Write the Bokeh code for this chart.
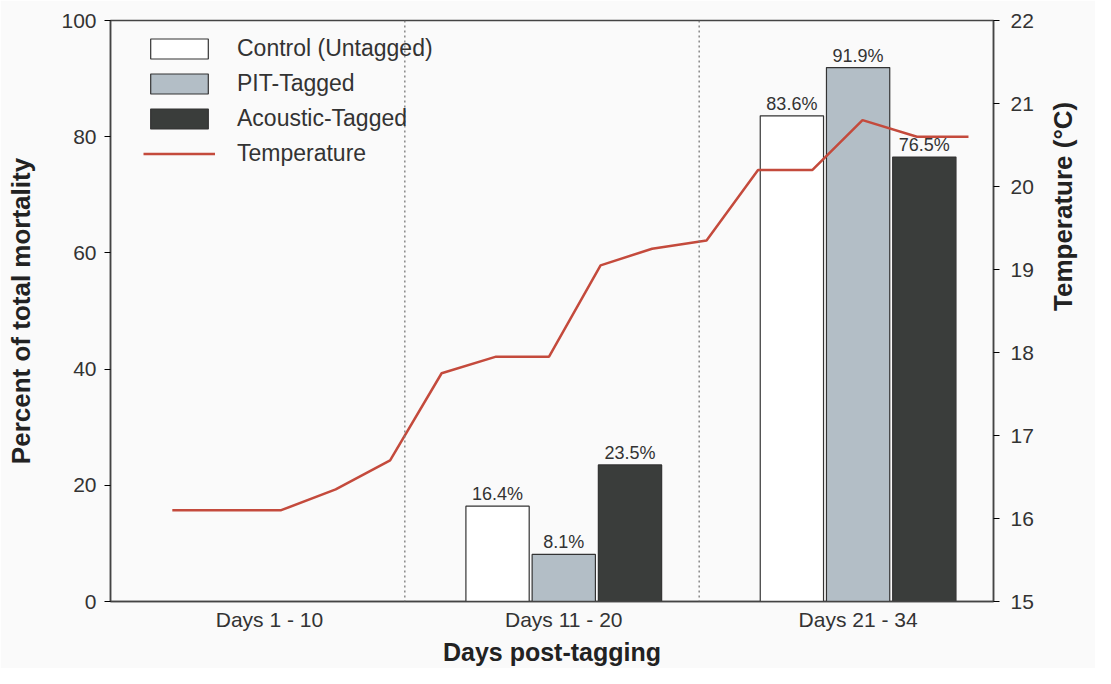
import math
from bokeh.plotting import figure
from bokeh.models import Range1d, LinearAxis, FixedTicker, Span, Legend, LegendItem, ColumnDataSource
from bokeh.core.properties import value
from bokeh.embed import file_html
from bokeh.resources import INLINE

# ---- data ----
groups = ["Days 1 - 10", "Days 11 - 20", "Days 21 - 34"]
control = [0.0, 16.4, 83.6]
pit = [0.0, 8.1, 91.9]
acoustic = [0.0, 23.5, 76.5]
temp_x = [0.21, 0.58, 0.765, 0.95, 1.125, 1.31, 1.49, 1.665, 1.84, 2.025, 2.2, 2.385, 2.555, 2.74, 2.915]
temp_c = [16.1, 16.1, 16.35, 16.7, 17.75, 17.95, 17.95, 19.05, 19.25, 19.35, 20.2, 20.2, 20.8, 20.6, 20.6]

FONT = "Liberation Sans"
BG = "#fafafa"
group_centers = [0.54, 1.54, 2.54]
offsets = [-0.225, 0.0, 0.225]
bw = 0.215

p = figure(width=1095, height=668, output_backend="svg", toolbar_location=None,
           x_range=Range1d(0, 3), y_range=Range1d(0, 100),
           min_border_left=110, min_border_right=102, min_border_top=20, min_border_bottom=66)
p.background_fill_color = BG
p.border_fill_color = BG
p.outline_line_color = "#444444"
p.outline_line_width = 1.5
p.grid.visible = False

p.extra_y_ranges = {"temp": Range1d(15, 22)}

series = [("Control (Untagged)", control, "#ffffff"),
          ("PIT-Tagged", pit, "#b3bec6"),
          ("Acoustic-Tagged", acoustic, "#3a3d3b")]
items = []
for i, (name, vals, col) in enumerate(series):
    xs = [c + offsets[i] for c in group_centers]
    src = ColumnDataSource(dict(x=xs, top=vals,
                                lab=[f"{v:.1f}%" if v > 0 else "" for v in vals]))
    r = p.vbar(x="x", top="top", width=bw, source=src, fill_color=col,
               line_color="#333333", line_width=1.2)
    p.text(x="x", y="top", text="lab", source=src, text_align="center",
           text_baseline="bottom", y_offset=-2, text_font=value(FONT),
           text_font_size="18px", text_color="#333333")
    items.append(LegendItem(label=name, renderers=[r]))

for b in [1, 2]:
    p.add_layout(Span(location=b, dimension="height", line_color="#777777",
                      line_dash="2 3", line_width=1.3))

tl = p.line(temp_x, temp_c, y_range_name="temp", line_color="#c44a3c", line_width=2.5)
items.append(LegendItem(label="Temperature", renderers=[tl]))

legend = Legend(items=items, location=(33, 434), glyph_width=72, glyph_height=25,
                label_height=25, spacing=8, padding=0, margin=0, label_standoff=22,
                label_text_font=FONT, label_text_font_size="23px",
                label_text_color="#333333", background_fill_alpha=0,
                border_line_color=None)
p.add_layout(legend, "center")

# left axis
ya = p.yaxis[0]
ya.ticker = FixedTicker(ticks=[0, 20, 40, 60, 80, 100])
ya.axis_label = "Percent of total mortality"
# bottom axis
xa = p.xaxis[0]
xa.ticker = FixedTicker(ticks=group_centers)
xa.major_label_overrides = {c: g for c, g in zip(group_centers, groups)}

ra = LinearAxis(y_range_name="temp", ticker=FixedTicker(ticks=list(range(15, 23))),
                axis_label="Temperature (°C)")
p.add_layout(ra, "right")

for ax in [ya, xa, ra]:
    ax.minor_tick_line_color = None
    ax.axis_line_color = "#444444"
    ax.axis_line_width = 1.5
    ax.major_tick_out = 6
    ax.major_tick_in = 0
    ax.major_label_text_font = FONT
    ax.major_label_text_font_size = "21px"
    ax.major_label_text_color = "#333333"
    ax.axis_label_text_font = FONT
    ax.axis_label_text_font_style = "bold"
    ax.axis_label_text_font_size = "26px"
    ax.axis_label_text_color = "#222222"
xa.major_tick_line_color = None
xa.major_tick_out = 0
xa.major_label_standoff = 6
xa.axis_label_standoff = 4
xa.axis_label = "Days post-tagging"
xa.axis_label_text_font_size = "25px"
ya.major_label_standoff = 8
ya.axis_label_standoff = 22
ra.major_label_standoff = 11
ra.axis_label_standoff = 26
if hasattr(ra, "axis_label_orientation"):
    ra.axis_label_orientation = math.pi / 2

open("out.html", "w").write(file_html(p, INLINE))
